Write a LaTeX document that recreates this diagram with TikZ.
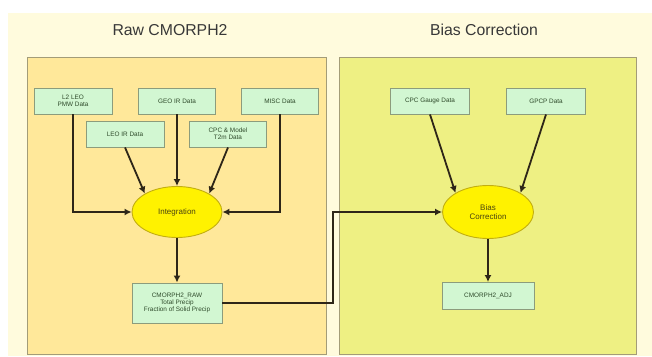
\documentclass[tikz,border=0pt]{standalone}
\usepackage{fontspec}
\setmainfont{Liberation Sans}
\usetikzlibrary{arrows.meta,shapes.geometric}
\definecolor{creambg}{HTML}{FFFBDD}
\definecolor{leftpanel}{HTML}{FFE89A}
\definecolor{rightpanel}{HTML}{EEF083}
\definecolor{panelline}{HTML}{A39C78}
\definecolor{boxfill}{HTML}{D2F7D2}
\definecolor{boxline}{HTML}{8C9C7C}
\definecolor{boxtext}{HTML}{2E4A2A}
\definecolor{ellfill}{HTML}{FFF200}
\definecolor{elline}{HTML}{C2AE10}
\definecolor{elltext}{HTML}{4A4410}
\definecolor{arrowc}{HTML}{2E2618}
\definecolor{titlec}{HTML}{383838}
\tikzset{
  panel/.style={draw=panelline, line width=0.9pt},
  databox/.style={draw=boxline, fill=boxfill, line width=0.9pt, text=boxtext,
    inner sep=0pt, align=center, font=\fontsize{6.4}{7.4}\selectfont},
  procell/.style={ellipse, draw=elline, fill=ellfill, line width=0.9pt, text=elltext,
    inner sep=0pt, align=center, font=\fontsize{8}{9.5}\selectfont},
  flow/.style={draw=arrowc, line width=1.8pt, -{Latex[length=7pt,width=7pt]}},
  paneltitle/.style={text=titlec, font=\fontsize{15.8}{18}\selectfont}
}
\begin{document}
\begin{tikzpicture}[x=1pt,y=-1pt]
\useasboundingbox (0,0) rectangle (652,356);
\fill[white] (0,0) rectangle (652,356);
\fill[creambg] (8,13) rectangle (652,356);
\draw[panel, fill=leftpanel] (27,57) rectangle (326,354);
\draw[panel, fill=rightpanel] (339,57) rectangle (636,354);
\node[paneltitle] (t1) at (170,30) {Raw CMORPH2};
\node[paneltitle] (t2) at (484,30) {Bias Correction};
% left inputs
\node[databox, minimum width=78pt, minimum height=26pt] (l2) at (73,101) {L2 LEO\\PMW Data};
\node[databox, minimum width=77pt, minimum height=26pt] (geo) at (177,101) {GEO IR Data};
\node[databox, minimum width=77pt, minimum height=26pt] (misc) at (280,101) {MISC Data};
\node[databox, minimum width=78pt, minimum height=26pt] (leo) at (125,134) {LEO IR Data};
\node[databox, minimum width=77pt, minimum height=26pt] (cpcm) at (228,134) {CPC \& Model\\T2m Data};
\node[procell, minimum width=90pt, minimum height=51pt] (integ) at (177,212) {Integration};
\node[databox, minimum width=90pt, minimum height=40pt] (raw) at (177,303) {CMORPH2\_RAW\\Total Precip\\Fraction of Solid Precip};
% right inputs
\node[databox, minimum width=79pt, minimum height=26pt] (gauge) at (430,101) {CPC Gauge Data};
\node[databox, minimum width=79pt, minimum height=26pt] (gpcp) at (546,101) {GPCP Data};
\node[procell, minimum width=91pt, minimum height=53pt] (bias) at (488,212) {Bias\\Correction};
\node[databox, minimum width=92pt, minimum height=27pt] (adj) at (488,296) {CMORPH2\_ADJ};
\coordinate (jx) at (333,0);
% connectors
\draw[flow] (l2.south) |- (integ.west);
\draw[flow] (misc.south) |- (integ.east);
\draw[flow] (geo.south) -- (integ.north);
\draw[flow] (leo.south) -- (integ.north west);
\draw[flow] (cpcm.south) -- (integ.north east);
\draw[flow] (integ.south) -- (raw.north);
\draw[flow] (raw.east) -- (raw.east -| jx) |- (bias.west);
\draw[flow] (gauge.south) -- (bias.north west);
\draw[flow] (gpcp.south) -- (bias.north east);
\draw[flow] (bias.south) -- (adj.north);
\end{tikzpicture}
\end{document}
